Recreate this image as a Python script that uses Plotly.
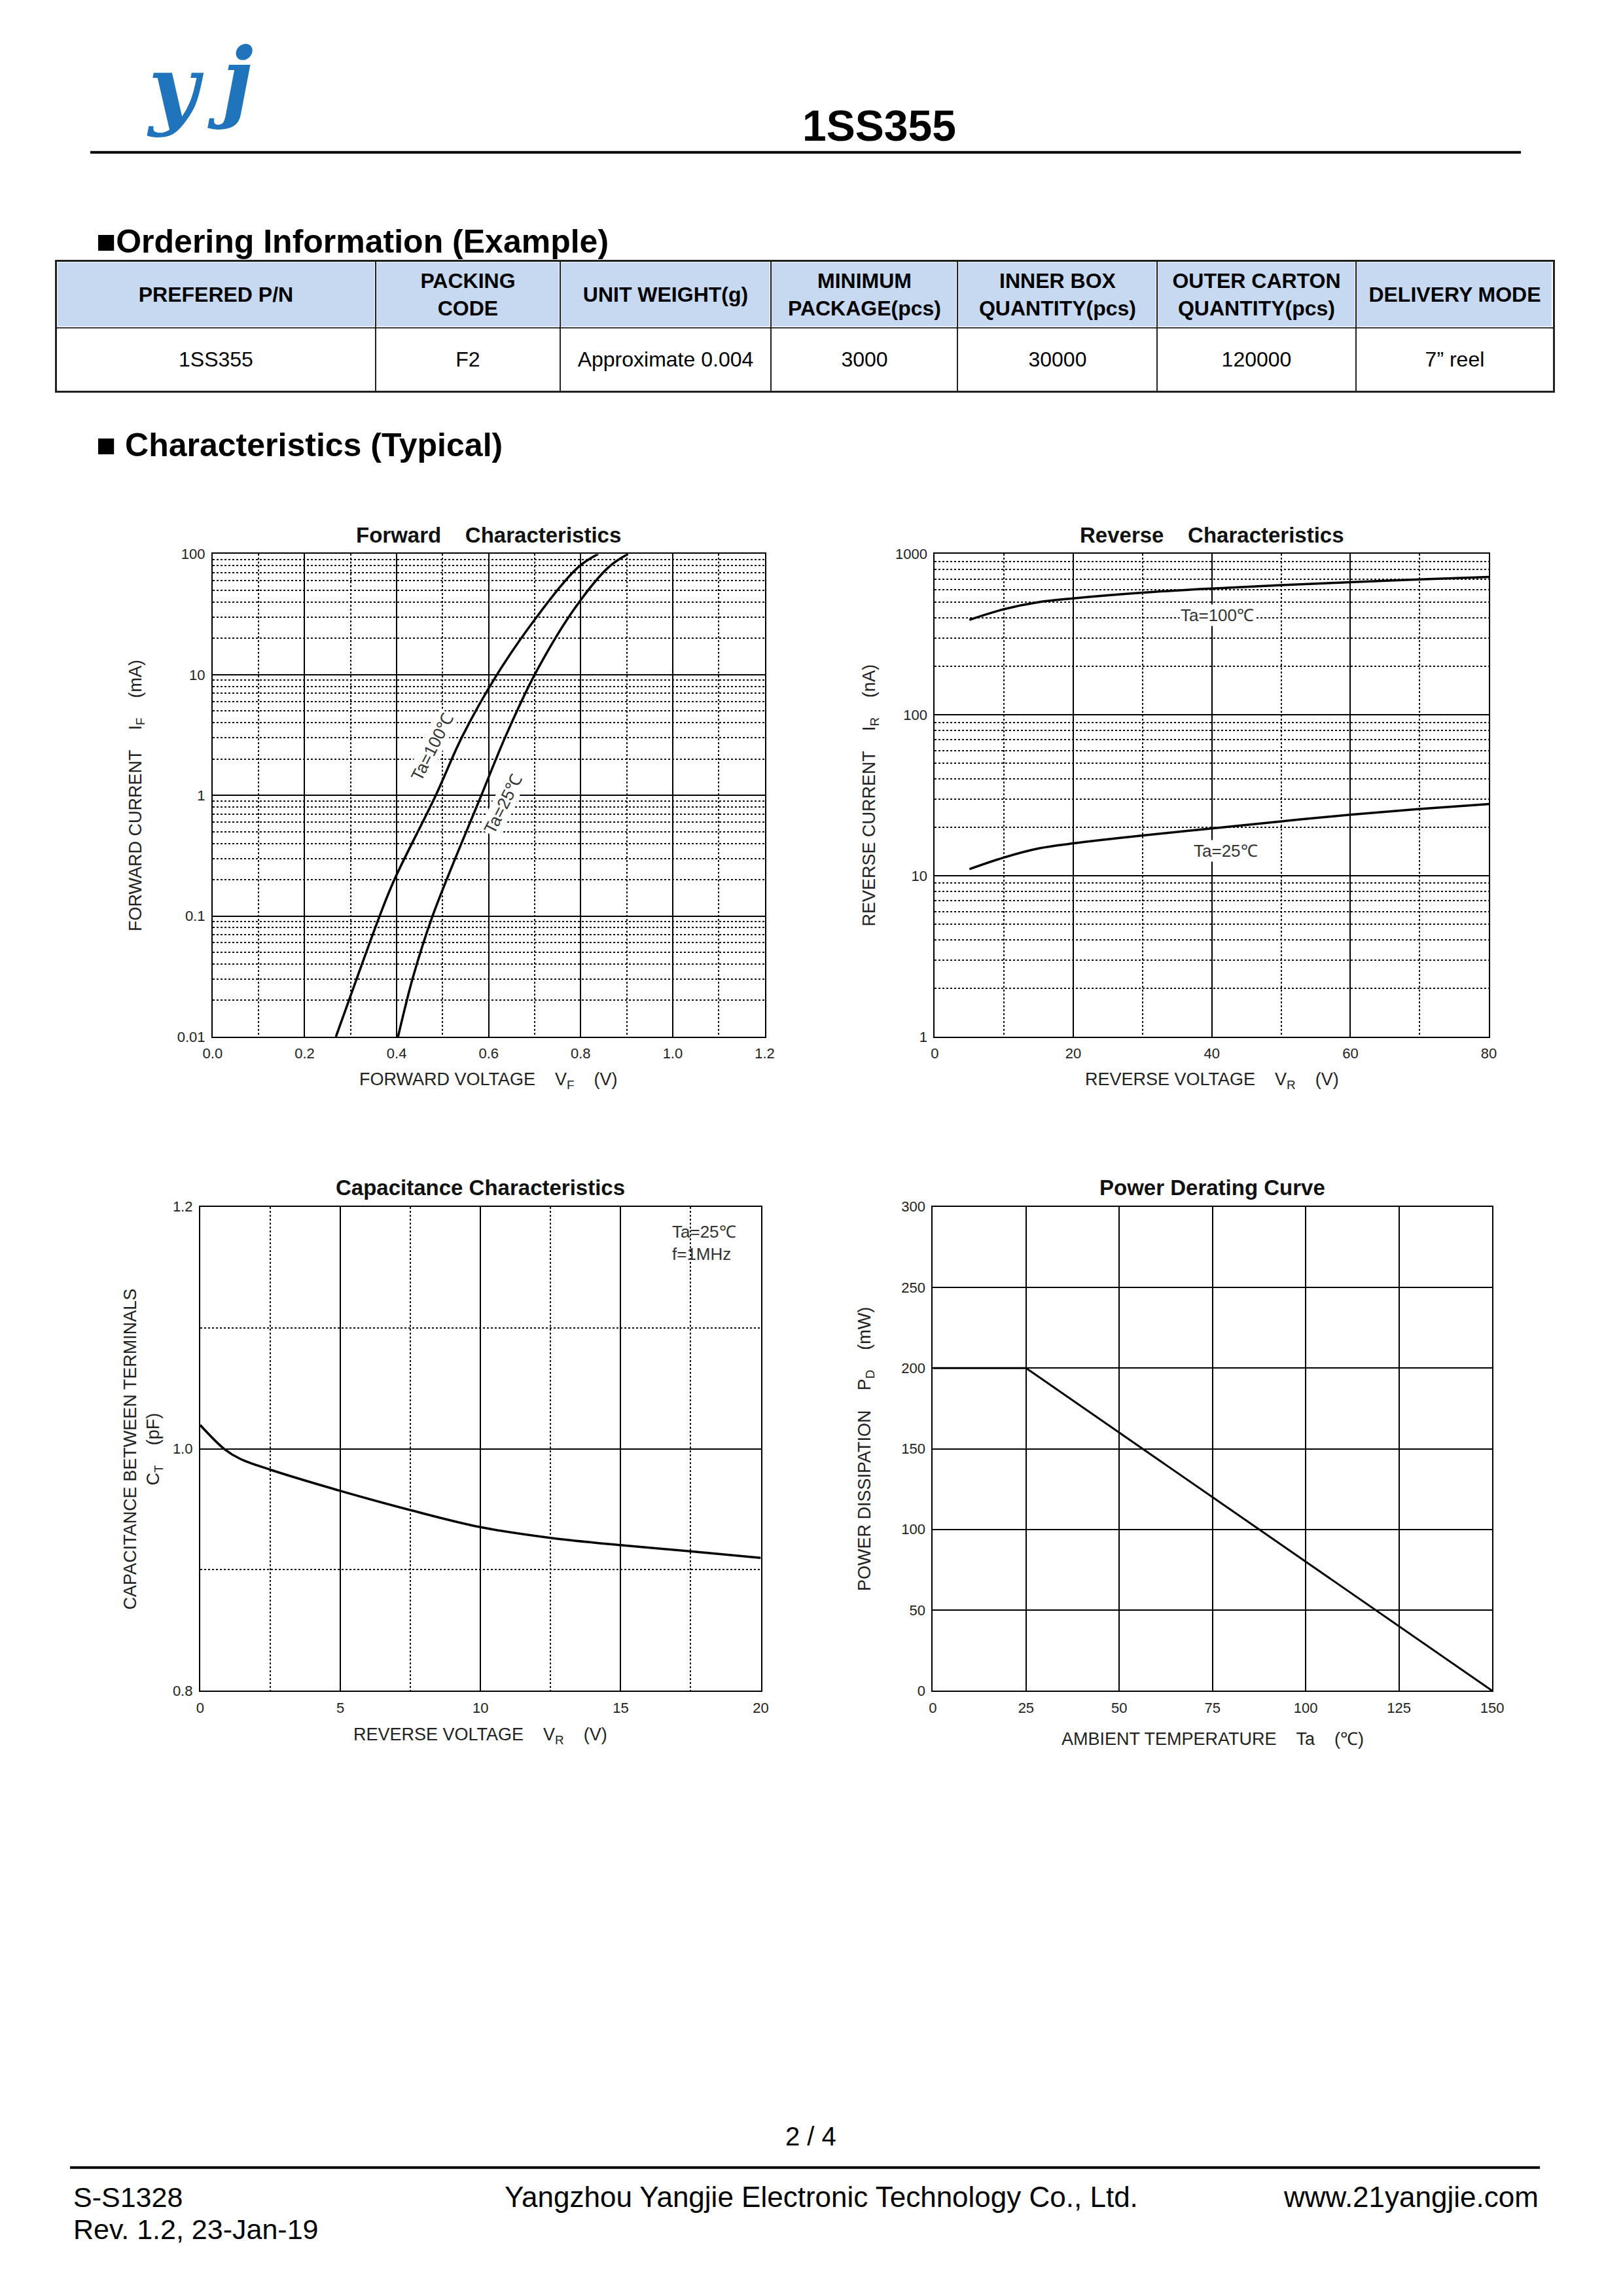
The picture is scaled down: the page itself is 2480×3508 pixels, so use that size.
import plotly.graph_objects as go

# ---------------- DATA ----------------
table_header = ["PREFERED P/N", "PACKING<br>CODE", "UNIT WEIGHT(g)", "MINIMUM<br>PACKAGE(pcs)",
                "INNER BOX<br>QUANTITY(pcs)", "OUTER CARTON<br>QUANTITY(pcs)", "DELIVERY MODE"]
table_row = ["1SS355", "F2", "Approximate 0.004", "3000", "30000", "120000", "7\u201d reel"]

# Forward characteristics (VF in V, IF in mA)
fwd_v_100 = [0.268, 0.315, 0.363, 0.395, 0.485, 0.543, 0.618, 0.707, 0.795, 0.838]
fwd_i_100 = [0.01, 0.0316, 0.1, 0.2, 1, 3.1, 10, 31, 78, 100]
fwd_v_25 = [0.403, 0.436, 0.478, 0.584, 0.637, 0.700, 0.786, 0.861, 0.903]
fwd_i_25 = [0.01, 0.0316, 0.1, 1, 3.1, 10, 35, 78, 100]
fwd_x_ticks = [0.0, 0.2, 0.4, 0.6, 0.8, 1.0, 1.2]
fwd_y_ticks = [0.01, 0.1, 1, 10, 100]
fwd_y_labels = ["0.01", "0.1", "1", "10", "100"]

# Reverse characteristics (VR in V, IR in nA)
rev_v = [5, 10, 15, 20, 30, 40, 50, 60, 70, 80]
rev_i_100 = [390, 454, 502, 530, 575, 610, 640, 668, 695, 720]
rev_i_25 = [11.0, 13.0, 14.8, 15.9, 17.8, 19.7, 21.8, 24.0, 26.0, 27.9]
rev_y_ticks = [1, 10, 100, 1000]
rev_y_labels = ["1", "10", "100", "1000"]

# Capacitance (VR in V, CT in pF)
cap_v = [0, 0.85, 1.43, 2.5, 5, 7.5, 10, 12.5, 15, 17.5, 20]
cap_c = [1.0196, 1.0, 0.9916, 0.9827, 0.9652, 0.9493, 0.9352, 0.9263, 0.9203, 0.9152, 0.9098]
cap_y_ticks = [0.8, 1.0, 1.2]
cap_y_labels = ["0.8", "1.0", "1.2"]

# Power derating (Ta in C, PD in mW)
pd_ta = [0, 25, 150]
pd_mw = [200, 200, 0]

# ---------------- FIGURE ----------------
FW, FH = 2462, 3484
# page placement of the figure as observed in the photographed page
SX, BX = 0.987, 21.0
SY, BY = 0.9935, 18.0
FONT = "Liberation Sans, Arial, sans-serif"
NB = "\u00a0"


def px(x):
    return ((x - BX) / SX) / FW


def py(y):
    return 1 - ((y - BY) / SY) / FH


# table geometry (column widths / row heights in page px)
col_w = [487, 282, 322, 286, 305, 304, 301]
col_edges = [0]
for w in col_w:
    col_edges.append(col_edges[-1] + w)
row_edges = [0, 96, 197]   # data row (bottom), header row (top)

fig = go.Figure()

fig.add_trace(go.Heatmap(
    x=col_edges, y=row_edges, z=[[0] * len(table_row), [1] * len(table_header)],
    text=[table_row, ["<b>%s</b>" % h for h in table_header]],
    texttemplate="%{text}", textfont=dict(family=FONT, size=32, color="black"),
    colorscale=[[0, "white"], [1, "#C6D9F0"]], showscale=False, xgap=3, ygap=3,
    hoverinfo="skip", xaxis="x5", yaxis="y5"))

line_style = dict(color="black", width=3.5)

fig.add_trace(go.Scatter(x=fwd_v_100, y=fwd_i_100, mode="lines", line=dict(shape="spline", **line_style),
                         xaxis="x", yaxis="y"))
fig.add_trace(go.Scatter(x=fwd_v_25, y=fwd_i_25, mode="lines", line=dict(shape="spline", **line_style),
                         xaxis="x", yaxis="y"))
fig.add_trace(go.Scatter(x=rev_v, y=rev_i_100, mode="lines", line=dict(shape="spline", **line_style),
                         xaxis="x2", yaxis="y2"))
fig.add_trace(go.Scatter(x=rev_v, y=rev_i_25, mode="lines", line=dict(shape="spline", **line_style),
                         xaxis="x2", yaxis="y2"))
fig.add_trace(go.Scatter(x=cap_v, y=cap_c, mode="lines", line=dict(shape="spline", **line_style),
                         xaxis="x3", yaxis="y3"))
fig.add_trace(go.Scatter(x=pd_ta, y=pd_mw, mode="lines", line=dict(color="black", width=3),
                         xaxis="x4", yaxis="y4"))

common = dict(showline=True, linecolor="black", linewidth=2, mirror=True, ticks="",
              showgrid=True, gridcolor="black", gridwidth=1.5, zeroline=False,
              tickfont=dict(family=FONT, size=22, color="#222222"), fixedrange=True,
              ticklabelstandoff=5)
minor_dot = dict(showgrid=True, gridcolor="#111111", griddash="dot", gridwidth=1.6)
tbl_ax = dict(showline=True, linecolor="#222222", linewidth=2.5, mirror=True, ticks="",
              showticklabels=False, showgrid=True, gridcolor="#222222", gridwidth=2,
              zeroline=False, fixedrange=True)

fwd_dom_x = [px(323), px(1167)]
rev_dom_x = [px(1427), px(2274)]
top_dom_y = [py(1583), py(845)]
cap_dom_x = [px(304), px(1161)]
pow_dom_x = [px(1424), px(2279)]
bot_dom_y = [py(2583), py(1843)]

fig.update_layout(
    width=FW, height=FH, margin=dict(l=0, r=0, t=0, b=0),
    paper_bgcolor="white", plot_bgcolor="white", showlegend=False,
    font=dict(family=FONT, color="black"),
    xaxis=dict(domain=fwd_dom_x, anchor="y", range=[0, 1.2], tickvals=fwd_x_ticks,
               ticktext=["%.1f" % v for v in fwd_x_ticks], minor=dict(dtick=0.1, **minor_dot), **common),
    yaxis=dict(domain=top_dom_y, anchor="x", type="log", range=[-2, 2], tickvals=fwd_y_ticks,
               ticktext=fwd_y_labels, minor=dict(dtick="D1", **minor_dot), **common),
    xaxis2=dict(domain=rev_dom_x, anchor="y2", range=[0, 80], dtick=20,
                minor=dict(dtick=10, **minor_dot), **common),
    yaxis2=dict(domain=top_dom_y, anchor="x2", type="log", range=[0, 3], tickvals=rev_y_ticks,
                ticktext=rev_y_labels, minor=dict(dtick="D1", **minor_dot), **common),
    xaxis3=dict(domain=cap_dom_x, anchor="y3", range=[0, 20], dtick=5,
                minor=dict(dtick=2.5, **minor_dot), **common),
    yaxis3=dict(domain=bot_dom_y, anchor="x3", range=[0.8, 1.2], tickvals=cap_y_ticks,
                ticktext=cap_y_labels, minor=dict(tick0=0.8, dtick=0.1, **minor_dot), **common),
    xaxis4=dict(domain=pow_dom_x, anchor="y4", range=[0, 150], dtick=25, **common),
    yaxis4=dict(domain=bot_dom_y, anchor="x4", range=[0, 300], dtick=50, **common),
    xaxis5=dict(domain=[px(85), px(2372)], anchor="y5", range=[0, col_edges[-1]],
                tickvals=col_edges, **tbl_ax),
    yaxis5=dict(domain=[py(595), py(398)], anchor="x5", range=[0, row_edges[-1]],
                tickvals=row_edges, **tbl_ax),
)

ann = []


def add(text, x, y, size, xanchor="center", yanchor="middle", bold=False, color="black", family=FONT):
    ann.append(dict(text=("<b>%s</b>" % text) if bold else text, x=x, y=y, xref="paper", yref="paper",
                    showarrow=False, xanchor=xanchor, yanchor=yanchor,
                    font=dict(family=family, size=size, color=color)))


# Header (logo drawn as two stylised letters)
add("<i>y</i>", px(266), py(132), 132, bold=True, color="#1F74BC", family="DejaVu Serif")
add("<i>j</i>", px(350), py(120), 132, bold=True, color="#1F74BC", family="DejaVu Serif")
add("1SS355", px(1342), py(190), 66, bold=True)
add("\u25a0Ordering Information (Example)", px(143), py(367), 50, xanchor="left", bold=True)
add("\u25a0 Characteristics (Typical)", px(143), py(678), 50, xanchor="left", bold=True)

# Footer
add("2 / 4", px(1237), py(3264), 40)
add("S-S1328", px(108), py(3357), 43, xanchor="left")
add("Rev. 1.2, 23-Jan-19", px(108), py(3406), 43, xanchor="left")
add("Yangzhou Yangjie Electronic Technology Co., Ltd.", px(1254), py(3357), 44)
add("www.21yangjie.com", px(2352), py(3357), 44, xanchor="right")


def chart_texts(xa, ya, title, xtitle, ytitle, xshift_y, yshift_x):
    base = dict(xref=xa + " domain", yref=ya + " domain", showarrow=False,
                xanchor="center", yanchor="middle")
    ann.append(dict(text="<b>%s</b>" % title, x=0.5, y=1, yshift=29,
                    font=dict(family=FONT, size=33, color="#111111"), **base))
    ann.append(dict(text=xtitle, x=0.5, y=0, yshift=-yshift_x,
                    font=dict(family=FONT, size=27, color="#222222"), **base))
    ann.append(dict(text=ytitle, x=0, y=0.5, xshift=-xshift_y, textangle=-90,
                    font=dict(family=FONT, size=27, color="#222222"), **base))


sp4 = NB * 4
chart_texts("x", "y", "Forward" + sp4 + "Characteristics",
            "FORWARD VOLTAGE" + sp4 + "V<sub>F</sub>" + sp4 + "(V)",
            "FORWARD CURRENT" + sp4 + "I<sub>F</sub>" + sp4 + "(mA)", 116, 67)
chart_texts("x2", "y2", "Reverse" + sp4 + "Characteristics",
            "REVERSE VOLTAGE" + sp4 + "V<sub>R</sub>" + sp4 + "(V)",
            "REVERSE CURRENT" + sp4 + "I<sub>R</sub>" + sp4 + "(nA)", 98, 67)
chart_texts("x3", "y3", "Capacitance Characteristics",
            "REVERSE VOLTAGE" + sp4 + "V<sub>R</sub>" + sp4 + "(V)",
            "CAPACITANCE BETWEEN TERMINALS<br>C<sub>T</sub>" + sp4 + "(pF)", 87, 69)
chart_texts("x4", "y4", "Power Derating Curve",
            "AMBIENT TEMPERATURE" + sp4 + "Ta" + sp4 + "(\u2103)",
            "POWER DISSIPATION" + sp4 + "P<sub>D</sub>" + sp4 + "(mW)", 103, 74)

# Curve labels
lab_font = dict(family=FONT, size=26, color="#333333")
lab = dict(showarrow=False, font=lab_font, xanchor="center", yanchor="middle")
ann.append(dict(text="Ta=100\u2103", x=0.478, y=0.40, xref="x", yref="y", textangle=-63,
                bgcolor="white", **lab))
ann.append(dict(text="Ta=25\u2103", x=0.632, y=-0.07, xref="x", yref="y", textangle=-63,
                bgcolor="white", **lab))
ann.append(dict(text="Ta=100\u2103", x=40.8, y=2.619, xref="x2", yref="y2", bgcolor="white", **lab))
ann.append(dict(text="Ta=25\u2103", x=42, y=1.154, xref="x2", yref="y2", bgcolor="white", **lab))
ann.append(dict(text="Ta=25\u2103<br>f=1MHz", x=16.8, y=1.17, xref="x3", yref="y3", xanchor="left",
                yanchor="middle", align="left", showarrow=False, font=lab_font))

fig.update_layout(annotations=ann)

fig.update_layout(shapes=[
    dict(type="line", xref="paper", yref="paper", x0=px(136), x1=px(2323), y0=py(231), y1=py(231),
         line=dict(color="black", width=4)),
    dict(type="line", xref="paper", yref="paper", x0=px(105), x1=px(2352), y0=py(3312), y1=py(3312),
         line=dict(color="black", width=4)),
])

fig.write_html("out.html")
